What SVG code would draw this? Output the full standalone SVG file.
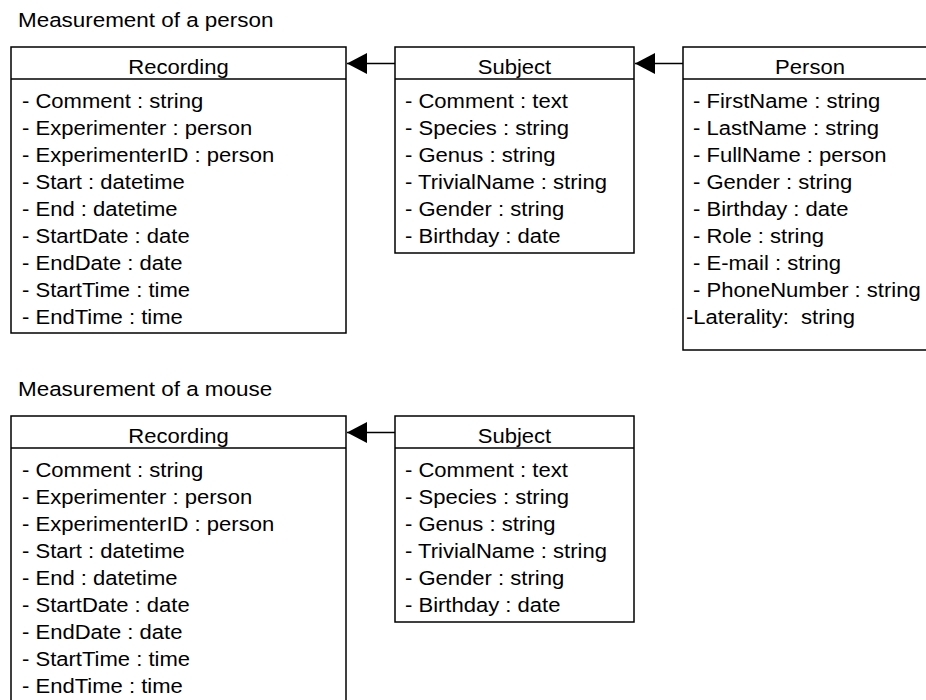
<svg xmlns="http://www.w3.org/2000/svg" width="926" height="700" viewBox="0 0 926 700">
  <style>
    .box { fill: #ffffff; stroke: #000000; stroke-width: 1.5; }
    .div { stroke: #000000; stroke-width: 1.5; }
    .t { font-family: "Liberation Sans", Arial, sans-serif; font-size: 19.5px; fill: #000000; white-space: pre; }
    .h { text-anchor: middle; }
    .edge { stroke: #000000; stroke-width: 1.5; fill: none; marker-end: url(#tri); }
  </style>
  <defs>
    <marker id="tri" markerUnits="userSpaceOnUse" viewBox="0 0 20 21" refX="20" refY="10.5" markerWidth="20" markerHeight="21" orient="auto">
      <path d="M0,0 L20,10.5 L0,21 z" fill="#000000"/>
    </marker>
  </defs>
  <rect width="926" height="700" fill="#ffffff"/>

  <!-- section titles -->
  <text id="title-person" class="t" transform="translate(18,27) scale(1.15,1)">Measurement of a person</text>
  <text id="title-mouse" class="t" transform="translate(18,396) scale(1.15,1)">Measurement of a mouse</text>

  <!-- connectors -->
  <g id="connectors">
    <line class="edge" x1="395" y1="63.5" x2="347" y2="63.5"/>
    <line class="edge" x1="683" y1="63.5" x2="635" y2="63.5"/>
    <line class="edge" x1="395" y1="432.5" x2="347" y2="432.5"/>
  </g>

  <!-- person measurement: Recording -->
  <g id="recording-person">
    <rect class="box" x="11" y="47" width="335" height="286"/>
    <line class="div" x1="11" y1="79" x2="346" y2="79"/>
    <text class="t h" transform="translate(178.5,73.5) scale(1.13,1)">Recording</text>
    <text class="t" transform="translate(22,108) scale(1.13,1)">- Comment : string</text>
    <text class="t" transform="translate(22,135) scale(1.13,1)">- Experimenter : person</text>
    <text class="t" transform="translate(22,162) scale(1.13,1)">- ExperimenterID : person</text>
    <text class="t" transform="translate(22,189) scale(1.13,1)">- Start : datetime</text>
    <text class="t" transform="translate(22,216) scale(1.13,1)">- End : datetime</text>
    <text class="t" transform="translate(22,243) scale(1.13,1)">- StartDate : date</text>
    <text class="t" transform="translate(22,270) scale(1.13,1)">- EndDate : date</text>
    <text class="t" transform="translate(22,297) scale(1.13,1)">- StartTime : time</text>
    <text class="t" transform="translate(22,324) scale(1.13,1)">- EndTime : time</text>
  </g>

  <!-- person measurement: Subject -->
  <g id="subject-person">
    <rect class="box" x="395" y="47" width="239" height="206"/>
    <line class="div" x1="395" y1="79" x2="634" y2="79"/>
    <text class="t h" transform="translate(514.5,73.5) scale(1.13,1)">Subject</text>
    <text class="t" transform="translate(405,108) scale(1.13,1)">- Comment : text</text>
    <text class="t" transform="translate(405,135) scale(1.13,1)">- Species : string</text>
    <text class="t" transform="translate(405,162) scale(1.13,1)">- Genus : string</text>
    <text class="t" transform="translate(405,189) scale(1.13,1)">- TrivialName : string</text>
    <text class="t" transform="translate(405,216) scale(1.13,1)">- Gender : string</text>
    <text class="t" transform="translate(405,243) scale(1.13,1)">- Birthday : date</text>
  </g>

  <!-- person measurement: Person -->
  <g id="person">
    <rect class="box" x="683" y="47" width="254" height="303"/>
    <line class="div" x1="683" y1="79" x2="937" y2="79"/>
    <text class="t h" transform="translate(810,73.5) scale(1.13,1)">Person</text>
    <text class="t" transform="translate(693,108) scale(1.13,1)">- FirstName : string</text>
    <text class="t" transform="translate(693,135) scale(1.13,1)">- LastName : string</text>
    <text class="t" transform="translate(693,162) scale(1.13,1)">- FullName : person</text>
    <text class="t" transform="translate(693,189) scale(1.13,1)">- Gender : string</text>
    <text class="t" transform="translate(693,216) scale(1.13,1)">- Birthday : date</text>
    <text class="t" transform="translate(693,243) scale(1.13,1)">- Role : string</text>
    <text class="t" transform="translate(693,270) scale(1.13,1)">- E-mail : string</text>
    <text class="t" transform="translate(693,297) scale(1.13,1)">- PhoneNumber : string</text>
    <text class="t" transform="translate(686,324) scale(1.13,1)">-Laterality:  string</text>
  </g>

  <!-- mouse measurement: Recording -->
  <g id="recording-mouse">
    <rect class="box" x="11" y="416" width="335" height="290"/>
    <line class="div" x1="11" y1="448" x2="346" y2="448"/>
    <text class="t h" transform="translate(178.5,442.5) scale(1.13,1)">Recording</text>
    <text class="t" transform="translate(22,477) scale(1.13,1)">- Comment : string</text>
    <text class="t" transform="translate(22,504) scale(1.13,1)">- Experimenter : person</text>
    <text class="t" transform="translate(22,531) scale(1.13,1)">- ExperimenterID : person</text>
    <text class="t" transform="translate(22,558) scale(1.13,1)">- Start : datetime</text>
    <text class="t" transform="translate(22,585) scale(1.13,1)">- End : datetime</text>
    <text class="t" transform="translate(22,612) scale(1.13,1)">- StartDate : date</text>
    <text class="t" transform="translate(22,639) scale(1.13,1)">- EndDate : date</text>
    <text class="t" transform="translate(22,666) scale(1.13,1)">- StartTime : time</text>
    <text class="t" transform="translate(22,693) scale(1.13,1)">- EndTime : time</text>
  </g>

  <!-- mouse measurement: Subject -->
  <g id="subject-mouse">
    <rect class="box" x="395" y="416" width="239" height="206"/>
    <line class="div" x1="395" y1="448" x2="634" y2="448"/>
    <text class="t h" transform="translate(514.5,442.5) scale(1.13,1)">Subject</text>
    <text class="t" transform="translate(405,477) scale(1.13,1)">- Comment : text</text>
    <text class="t" transform="translate(405,504) scale(1.13,1)">- Species : string</text>
    <text class="t" transform="translate(405,531) scale(1.13,1)">- Genus : string</text>
    <text class="t" transform="translate(405,558) scale(1.13,1)">- TrivialName : string</text>
    <text class="t" transform="translate(405,585) scale(1.13,1)">- Gender : string</text>
    <text class="t" transform="translate(405,612) scale(1.13,1)">- Birthday : date</text>
  </g>
</svg>
